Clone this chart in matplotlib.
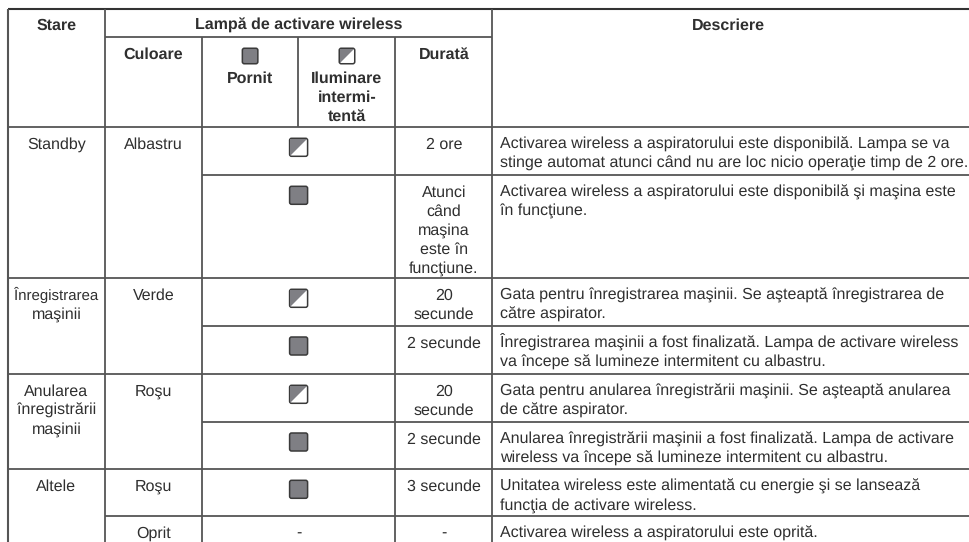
import matplotlib
matplotlib.use('Agg')
import matplotlib.pyplot as plt
from matplotlib.patches import FancyBboxPatch, Polygon

plt.rcParams['font.family'] = ['Liberation Sans', 'DejaVu Sans']
plt.rcParams['text.hinting'] = 'no_hinting'
plt.rcParams['text.hinting_factor'] = 1

stare = ['Standby', 'Înregistrarea\nmaşinii', 'Anularea\nînregistrării\nmaşinii', 'Altele']
culoare = ['Albastru', 'Verde', 'Roşu', 'Roşu', 'Oprit']
lampa = ['blink', 'on', 'blink', 'on', 'blink', 'on', 'on', '-']
durata = ['2 ore', 'Atunci\ncând\nmaşina\neste în\nfuncţiune.', '20\nsecunde', '2 secunde',
          '20\nsecunde', '2 secunde', '3 secunde', '-']
descriere = [
    'Activarea wireless a aspiratorului este disponibilă. Lampa se va\nstinge automat atunci când nu are loc nicio operaţie timp de 2 ore.',
    'Activarea wireless a aspiratorului este disponibilă şi maşina este\nîn funcţiune.',
    'Gata pentru înregistrarea maşinii. Se aşteaptă înregistrarea de\ncătre aspirator.',
    'Înregistrarea maşinii a fost finalizată. Lampa de activare wireless\nva începe să lumineze intermitent cu albastru.',
    'Gata pentru anularea înregistrării maşinii. Se aşteaptă anularea\nde către aspirator.',
    'Anularea înregistrării maşinii a fost finalizată. Lampa de activare\nwireless va începe să lumineze intermitent cu albastru.',
    'Unitatea wireless este alimentată cu energie şi se lansează\nfuncţia de activare wireless.',
    'Activarea wireless a aspiratorului este oprită.',
]

# column edges and row tops, in pixels
col = [8, 105, 201.7, 298.5, 395.5, 492.3, 970]
row = [127, 175, 278, 325.7, 374, 421.7, 469, 516]
top = 8.7
head = 37
bottom = 542
stare_rows = [0, 2, 4, 6]
culoare_rows = [0, 2, 4, 6, 7]

LINE = '#555555'
TEXT = '#2f2f2f'
GREY = '#7f7f84'
FS = 11.5
LH = 19


def txt(x, y, s, ha='center', bold=False, size=FS):
    for i, part in enumerate(s.split('\n')):
        # the long word in the first column is set tighter in the original
        fs = 10.9 if part == 'Înregistrarea' else size
        ax.text(x, y + i * LH, part, ha=ha, va='baseline', fontsize=fs, color=TEXT,
                fontweight='bold' if bold else 'normal')


def lamp(cx, cy, kind, size):
    h = size / 2
    box = dict(boxstyle='round,pad=0,rounding_size=2', linewidth=1.1, edgecolor='#3a3a3a')
    if kind == 'on':
        ax.add_patch(FancyBboxPatch((cx - h, cy - h), size, size, facecolor=GREY, zorder=3, **box))
    else:
        ax.add_patch(FancyBboxPatch((cx - h, cy - h), size, size, facecolor='white', zorder=3, **box))
        ax.add_patch(Polygon([(cx - h + 0.6, cy + h - 0.6), (cx - h + 0.6, cy - h + 0.6), (cx + h - 0.6, cy - h + 0.6)],
                             closed=True, facecolor=GREY, edgecolor='none', zorder=4))


fig = plt.figure(figsize=(9.7, 5.42), dpi=100)
ax = fig.add_axes([0, 0, 1, 1])
ax.set_xlim(0, 970)
ax.set_ylim(542, 0)
ax.axis('off')


def hl(y, x0, x1, lw=1.3, c=LINE):
    ax.plot([x0, x1], [y, y], color=c, lw=lw, solid_capstyle='butt')


def vl(x, y0, y1, lw=1.3):
    ax.plot([x, x], [y0, y1], color=LINE, lw=lw, solid_capstyle='butt')


# table rules
hl(top, col[0], col[6], lw=1.5, c='#333333')
hl(head, col[1], col[5])
hl(row[0], col[0], col[6])
for i, y in enumerate(row[1:], start=1):
    x0 = col[0] if i in stare_rows else (col[1] if i in culoare_rows else col[2])
    hl(y, x0, col[6])
vl(col[0], top, bottom, lw=1.5)
vl(col[1], top, bottom)
vl(col[2], head, bottom)
vl(col[3], head, row[0])
vl(col[4], head, bottom)
vl(col[5], top, bottom)

# header
txt((col[0] + col[1]) / 2, 30, 'Stare', bold=True)
txt((col[1] + col[5]) / 2, 30, 'Lampă de activare wireless', bold=True, size=11.2)
txt((col[5] + col[6]) / 2 - 3, 30, 'Descriere', bold=True)
txt((col[1] + col[2]) / 2, 59, 'Culoare', bold=True)
txt((col[4] + col[5]) / 2, 59, 'Durată', bold=True)
txt((col[2] + col[3]) / 2, 83, 'Pornit', bold=True)
txt((col[3] + col[4]) / 2, 83, 'Iluminare\nintermi-\ntentă', bold=True)
lamp((col[2] + col[3]) / 2, 56, 'on', 15.5)
lamp((col[3] + col[4]) / 2, 56, 'blink', 15.5)

# body
for r, s in zip(stare_rows, stare):
    txt((col[0] + col[1]) / 2, row[r] + 21.7, s)
for r, s in zip(culoare_rows, culoare):
    txt((col[1] + col[2]) / 2, row[r] + 21.7, s)
for i in range(len(row)):
    y = row[i] + 21.7
    if lampa[i] == '-':
        txt((col[2] + col[4]) / 2, y, '-')
    else:
        lamp((col[2] + col[4]) / 2, row[i] + 20.3, lampa[i], 18)
    txt((col[4] + col[5]) / 2, y, durata[i])
    txt(col[5] + 7.5, y, descriere[i], ha='left')

fig.savefig('out.png', dpi=100)
